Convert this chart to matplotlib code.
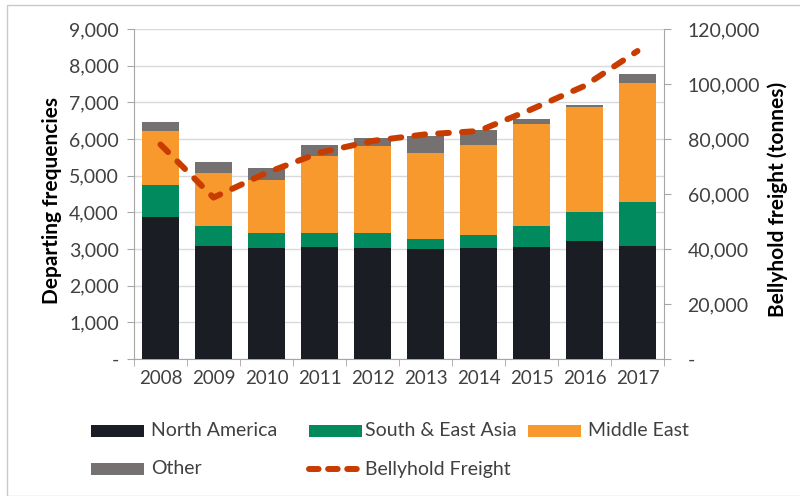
import matplotlib
matplotlib.use("Agg")
import matplotlib.pyplot as plt
import numpy as np
from matplotlib.patches import Rectangle
from matplotlib.lines import Line2D

plt.rcParams['font.family'] = ['Lato', 'DejaVu Sans']

years = ["2008", "2009", "2010", "2011", "2012", "2013", "2014", "2015", "2016", "2017"]
north_america = [3870, 3080, 3040, 3060, 3040, 3010, 3040, 3060, 3230, 3080]
south_east_asia = [870, 550, 390, 390, 390, 270, 330, 570, 780, 1210]
middle_east = [1480, 1450, 1450, 2080, 2380, 2350, 2480, 2790, 2850, 3250]
other = [250, 300, 340, 310, 220, 450, 400, 130, 60, 220]
bellyhold_freight = [78000, 58700, 67700, 75000, 79300, 81700, 82900, 90800, 99300, 112000]

c_na = "#1a1d24"
c_sea = "#008a5e"
c_me = "#f7992d"
c_oth = "#767171"
c_fr = "#c83c00"
txt = "#404040"
W, H = 800, 496

fig = plt.figure(figsize=(8, 4.96), dpi=100)
ax = fig.add_axes([134/W, 1-359/H, (664-134)/W, (359-29)/H])

x = np.arange(len(years))
w = 0.68
na = np.array(north_america)
sea = np.array(south_east_asia)
me = np.array(middle_east)
ot = np.array(other)
ax.bar(x, na, w, color=c_na, zorder=3)
ax.bar(x, sea, w, bottom=na, color=c_sea, zorder=3)
ax.bar(x, me, w, bottom=na+sea, color=c_me, zorder=3)
ax.bar(x, ot, w, bottom=na+sea+me, color=c_oth, zorder=3)

ax.set_xlim(-0.5, len(years)-0.5)
ax.set_ylim(0, 9000)
ax.set_yticks(np.arange(0, 9001, 1000))
ax.set_yticklabels(["-"] + [f"{v:,}" for v in range(1000, 9001, 1000)])
ax.yaxis.grid(True, color="#d9d9d9", linewidth=1, zorder=0)
ax.set_axisbelow(True)
ax.set_xticks(x)
ax.set_xticklabels(years)
ax.set_xticks(np.arange(-0.5, len(years), 1), minor=True)
ax.tick_params(axis='x', which='major', length=0, pad=8, labelsize=13.5, labelcolor=txt)
ax.tick_params(axis='x', which='minor', length=5, color="#a6a6a6", direction='out')
ax.tick_params(axis='y', length=5, color="#a6a6a6", labelsize=14, labelcolor=txt, pad=6)
for s in ["top", "right"]:
    ax.spines[s].set_visible(False)
for s in ["left", "bottom"]:
    ax.spines[s].set_color("#a6a6a6")
fig.text(52/W, 1-201/H, "Departing frequencies", rotation=90, ha='center', va='center',
         fontsize=15, fontweight='bold', color="black")

dash = (0, (1.8, 2.2))
ax2 = ax.twinx()
ax2.plot(x, bellyhold_freight, color=c_fr, linewidth=4.3, linestyle=dash,
         dash_capstyle='round', zorder=5)
ax2.set_ylim(0, 120000)
ax2.set_yticks(np.arange(0, 120001, 20000))
ax2.set_yticklabels(["-"] + [f"{v:,}" for v in range(20000, 120001, 20000)])
ax2.tick_params(axis='y', length=5, color="#a6a6a6", labelsize=14, labelcolor=txt, pad=12)
for s in ["top", "left", "bottom"]:
    ax2.spines[s].set_visible(False)
ax2.spines["right"].set_color("#a6a6a6")
fig.text(778/W, 1-199/H, "Bellyhold freight (tonnes)", rotation=90, ha='center', va='center',
         fontsize=15, fontweight='bold', color="black")

# legend (manual placement)
items = [
    ("North America", c_na, 91, 431, 'box'),
    ("South & East Asia", c_sea, 309, 431, 'box'),
    ("Middle East", c_me, 528, 431, 'box'),
    ("Other", c_oth, 91, 469, 'box'),
    ("Bellyhold Freight", c_fr, 306, 469, 'line'),
]
for label, col, x0, yc, kind in items:
    if kind == 'box':
        fig.patches.append(Rectangle((x0/W, 1-(yc+6)/H), 53/W, 12/H, transform=fig.transFigure,
                                     facecolor=col, edgecolor='none'))
        tx = x0 + 60 if label != "South & East Asia" else x0 + 56
    else:
        fig.lines.append(Line2D([(x0+3)/W, (x0+57)/W], [1-yc/H, 1-yc/H], transform=fig.transFigure,
                                color=col, linewidth=4.3, linestyle=(0, (1.6, 1.6)),
                                dash_capstyle='round'))
        tx = x0 + 59
    fig.text(tx/W, 1-yc/H, label, ha='left', va='center', fontsize=14, color=txt)

fig.patches.append(Rectangle((7/W, 0), 1, 1 - 5/H, transform=fig.transFigure,
                             fill=False, edgecolor="#c8c8c8", linewidth=1))

fig.savefig("out.png", dpi=100)
